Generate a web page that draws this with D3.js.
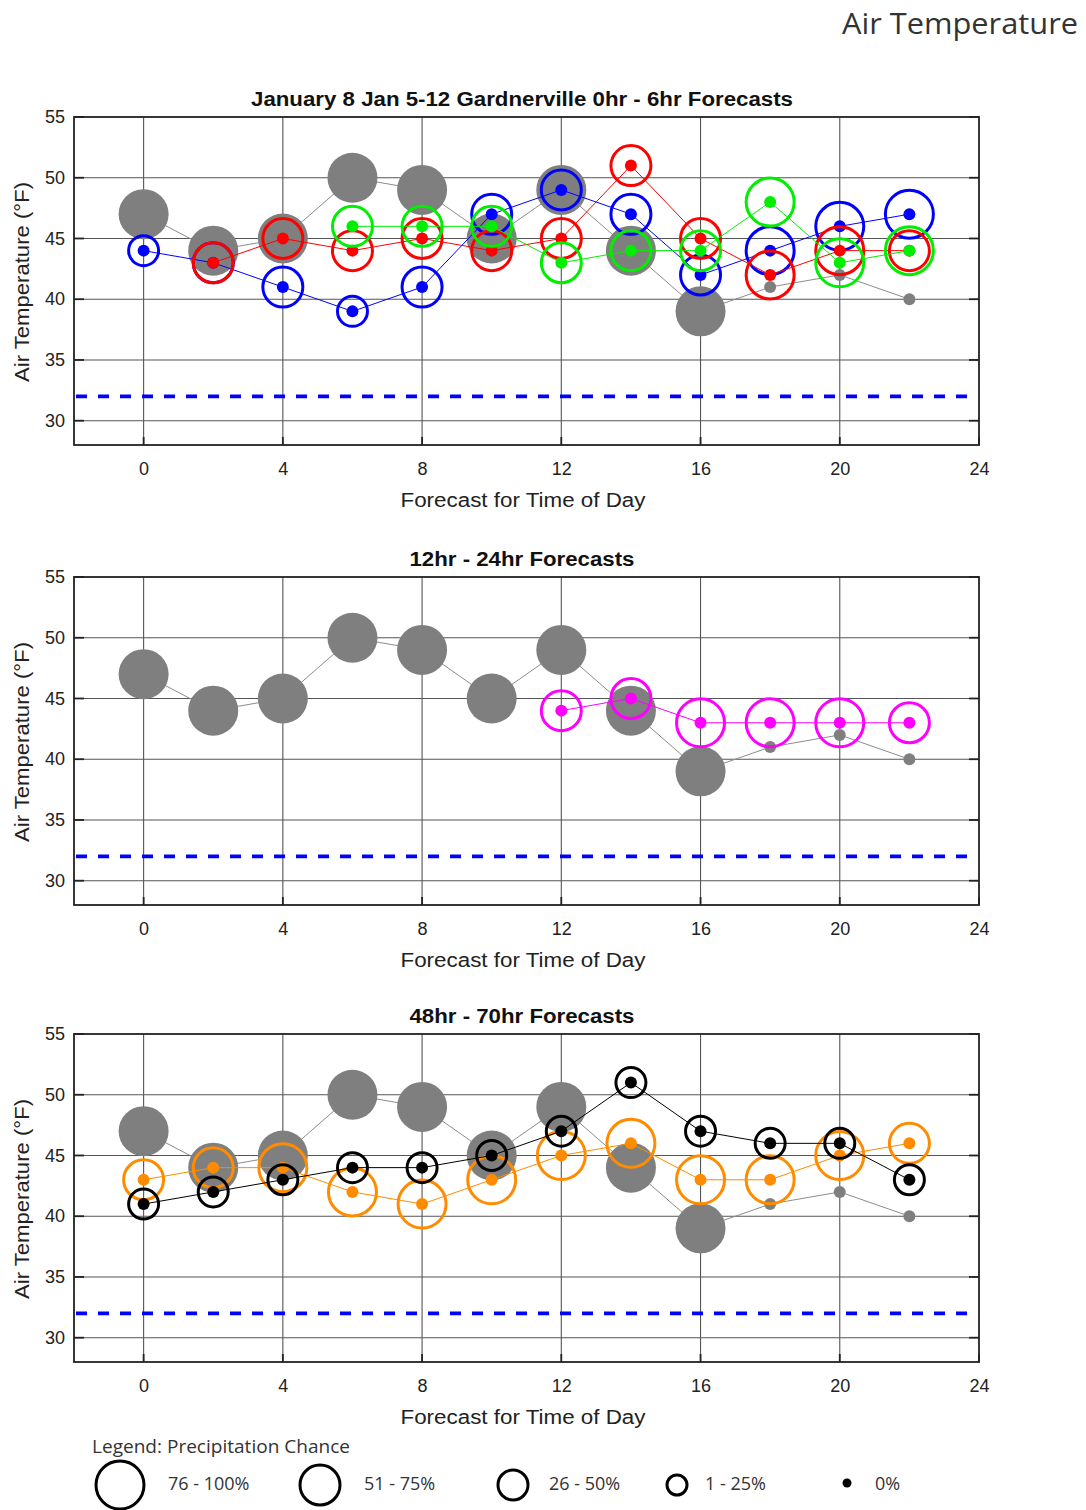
<!DOCTYPE html>
<html><head><meta charset="utf-8">
<script src="https://cdn.jsdelivr.net/npm/d3@7"></script>
<style>body{margin:0;background:#fff;} svg{display:block}</style>
</head><body>
<svg id="c" width="1086" height="1510"></svg>
<script>
// ---------- data ----------
const hours = [0, 2, 4, 6, 8, 10, 12, 14, 16, 18, 20, 22];
const observedTemp = [47, 44, 45, 50, 49, 45, 49, 44, 39, 41, 42, 40];
const observedSize = [4, 4, 4, 4, 4, 4, 4, 4, 4, 0, 0, 0];

// 0hr - 6hr forecasts
const blueTemp  = [44, 43, 41, 39, 41, 47, 49, 47, 42, 44, 46, 47];
const blueSize  = [2, 3, 3, 2, 3, 3, 3, 3, 3, 4, 4, 4];
const redTemp   = [null, 43, 45, 44, 45, 44, 45, 51, 45, 42, 44, 44];
const redSize   = [null, 3, 3, 3, 3, 3, 3, 3, 3, 4, 4, 3];
const greenTemp = [null, null, null, 46, 46, 46, 43, 44, 44, 48, 43, 44];
const greenSize = [null, null, null, 3, 3, 3, 3, 3, 3, 4, 4, 4];

// 12hr - 24hr forecasts
const magentaTemp = [null, null, null, null, null, null, 44, 45, 43, 43, 43, 43];
const magentaSize = [null, null, null, null, null, null, 3, 3, 4, 4, 4, 3];

// 48hr - 70hr forecasts
const orangeTemp = [43, 44, 44, 42, 41, 43, 45, 46, 43, 43, 45, 46];
const orangeSize = [3, 3, 4, 4, 4, 4, 4, 4, 4, 4, 4, 3];
const blackTemp  = [41, 42, 43, 44, 44, 45, 47, 51, 47, 46, 46, 43];
const blackSize  = [2, 2, 2, 2, 2, 2, 2, 2, 2, 2, 2, 2];

const freezingTemp = 32;
const xTicks = [0, 4, 8, 12, 16, 20, 24];
const yTicks = [30, 35, 40, 45, 50, 55];
const panelTitles = ["January 8 Jan 5-12 Gardnerville 0hr - 6hr Forecasts", "12hr - 24hr Forecasts", "48hr - 70hr Forecasts"];
const legendLabels = ["76 - 100%", "51 - 75%", "26 - 50%", "1 - 25%", "0%"];
const legendSizes = [4, 3, 2, 1, 0];

// ---------- styles ----------
const ringRadius = {4: 24, 3: 20, 2: 15, 1: 10};
const seriesSets = [
  [{t: blueTemp, s: blueSize, c: "#0000ff"}, {t: redTemp, s: redSize, c: "#ff0000"}, {t: greenTemp, s: greenSize, c: "#00ee00"}],
  [{t: magentaTemp, s: magentaSize, c: "#ff00ff"}],
  [{t: orangeTemp, s: orangeSize, c: "#ff8c00"}, {t: blackTemp, s: blackSize, c: "#000000"}]
];
const panelTops = [117, 577, 1034];
const sansB = "'Liberation Sans', Arial, sans-serif";
const calib = "'Open Sans', 'Noto Sans', sans-serif";

const svg = d3.select("#c");
svg.append("rect").attr("width", 1086).attr("height", 1510).attr("fill", "#fff");

svg.append("text").attr("x", 842).attr("y", 34).attr("font-family", calib)
  .attr("font-size", 29).attr("fill", "#333").attr("textLength", 236)
  .attr("lengthAdjust", "spacingAndGlyphs").text("Air Temperature");

const titleWidths = [542, 225, 225];

panelTops.forEach((top, pi) => {
  const x = d3.scaleLinear().domain([-2, 24]).range([74, 979]);
  const y = d3.scaleLinear().domain([28, 55]).range([top + 328, top]);
  const g = svg.append("g");
  const [x0, x1] = x.range();
  const [yb, yt] = [y(28), y(55)];

  // grid
  g.selectAll(".vg").data(xTicks.filter(d => d < 24)).join("line")
    .attr("x1", d => x(d)).attr("x2", d => x(d)).attr("y1", yt).attr("y2", yb)
    .attr("stroke", "#555").attr("stroke-width", 1.1);
  g.selectAll(".hg").data(yTicks.filter(d => d < 55)).join("line")
    .attr("x1", x0).attr("x2", x1).attr("y1", d => y(d)).attr("y2", d => y(d))
    .attr("stroke", "#555").attr("stroke-width", 1.1);
  // inward ticks
  g.selectAll(".lt").data(yTicks).join("line")
    .attr("x1", x0).attr("x2", x0 + 10).attr("y1", d => y(d)).attr("y2", d => y(d))
    .attr("stroke", "#222").attr("stroke-width", 1.8);
  g.selectAll(".rt").data(yTicks).join("line")
    .attr("x1", x1 - 10).attr("x2", x1).attr("y1", d => y(d)).attr("y2", d => y(d))
    .attr("stroke", "#222").attr("stroke-width", 1.8);
  g.selectAll(".bt").data(xTicks).join("line")
    .attr("x1", d => x(d)).attr("x2", d => x(d)).attr("y1", yb - 8).attr("y2", yb)
    .attr("stroke", "#222").attr("stroke-width", 1.8);
  // frame
  g.append("rect").attr("x", x0).attr("y", yt).attr("width", x1 - x0).attr("height", yb - yt)
    .attr("fill", "none").attr("stroke", "#222").attr("stroke-width", 1.8);

  // axes labels
  const ax = g.append("g").attr("transform", `translate(${x0},0)`)
    .call(d3.axisLeft(y).tickValues(yTicks).tickSize(0).tickPadding(9));
  ax.select(".domain").remove();
  ax.selectAll("text").attr("font-family", sansB).attr("font-size", 18).attr("fill", "#222");
  const bx = g.append("g").attr("transform", `translate(0,${yb})`)
    .call(d3.axisBottom(x).tickValues(xTicks).tickSize(0).tickPadding(17));
  bx.select(".domain").remove();
  bx.selectAll("text").attr("font-family", sansB).attr("font-size", 18).attr("fill", "#222");

  g.append("text").attr("x", 523).attr("y", yb + 62).attr("text-anchor", "middle")
    .attr("font-family", sansB).attr("font-size", 20).attr("fill", "#222")
    .attr("textLength", 245).attr("lengthAdjust", "spacingAndGlyphs").text("Forecast for Time of Day");
  g.append("text").attr("transform", `translate(29,${(yt + yb) / 2 + 1}) rotate(-90)`)
    .attr("text-anchor", "middle").attr("font-family", sansB).attr("font-size", 20).attr("fill", "#222")
    .attr("textLength", 200).attr("lengthAdjust", "spacingAndGlyphs").text("Air Temperature (°F)");
  g.append("text").attr("x", 522).attr("y", yt - 11).attr("text-anchor", "middle")
    .attr("font-family", sansB).attr("font-weight", "bold").attr("font-size", 20).attr("fill", "#111")
    .attr("textLength", titleWidths[pi]).attr("lengthAdjust", "spacingAndGlyphs").text(panelTitles[pi]);

  // freezing line
  g.append("line").attr("x1", x0 + 2).attr("x2", x1 - 3).attr("y1", y(freezingTemp)).attr("y2", y(freezingTemp))
    .attr("stroke", "#0000ff").attr("stroke-width", 3.6).attr("stroke-dasharray", "11,11");

  // observed series
  const obs = hours.map((h, i) => ({h, t: observedTemp[i], s: observedSize[i]}));
  const line = d3.line().defined(d => d.t != null).x(d => x(d.h)).y(d => y(d.t));
  g.append("path").datum(obs).attr("d", line).attr("fill", "none").attr("stroke", "#8c8c8c").attr("stroke-width", 1);
  g.selectAll(".obs").data(obs).join("circle")
    .attr("cx", d => x(d.h)).attr("cy", d => y(d.t)).attr("r", d => d.s > 0 ? 25 : 6)
    .attr("fill", "#7f7f7f");

  // forecast series
  seriesSets[pi].forEach(ser => {
    const pts = hours.map((h, i) => ({h, t: ser.t[i], s: ser.s[i]}));
    const valid = pts.filter(d => d.t != null);
    const sg = g.append("g");
    sg.append("path").datum(pts).attr("d", line).attr("fill", "none").attr("stroke", ser.c).attr("stroke-width", 1);
    sg.selectAll(".ring").data(valid.filter(d => d.s > 0)).join("circle")
      .attr("cx", d => x(d.h)).attr("cy", d => y(d.t)).attr("r", d => ringRadius[d.s])
      .attr("fill", "none").attr("stroke", ser.c).attr("stroke-width", 3);
    sg.selectAll(".dot").data(valid).join("circle")
      .attr("cx", d => x(d.h)).attr("cy", d => y(d.t)).attr("r", 6).attr("fill", ser.c);
  });
});

// legend
const lg = svg.append("g");
lg.append("text").attr("x", 92).attr("y", 1453).attr("font-family", calib).attr("font-size", 18)
  .attr("fill", "#333").attr("textLength", 258).attr("lengthAdjust", "spacingAndGlyphs")
  .text("Legend: Precipitation Chance");
const legendX = [120, 320, 513, 677, 847];
const legendTextX = [168, 364, 549, 705, 875];
legendSizes.forEach((s, i) => {
  if (s > 0) {
    lg.append("circle").attr("cx", legendX[i]).attr("cy", 1485).attr("r", ringRadius[s])
      .attr("fill", "none").attr("stroke", "#000").attr("stroke-width", 3);
  } else {
    lg.append("circle").attr("cx", legendX[i]).attr("cy", 1483).attr("r", 4.5).attr("fill", "#000");
  }
  lg.append("text").attr("x", legendTextX[i]).attr("y", 1490).attr("font-family", calib)
    .attr("font-size", 18).attr("fill", "#333").text(legendLabels[i]);
});
</script>
</body></html>
